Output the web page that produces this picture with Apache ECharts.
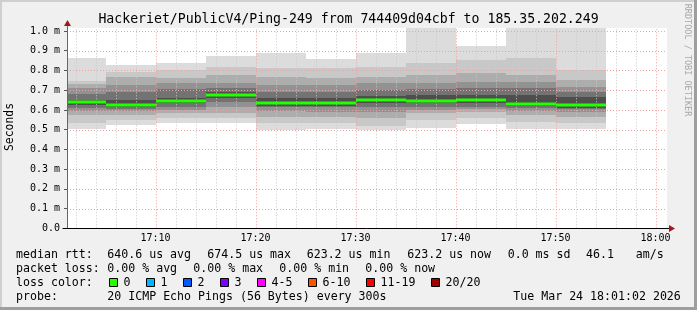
<!DOCTYPE html>
<html><head><meta charset="utf-8">
<script src="https://cdn.jsdelivr.net/npm/echarts@6/dist/echarts.min.js"></script>
<style>html,body{margin:0;padding:0;background:#f0f0f0}#c{width:697px;height:310px}</style>
</head><body><div id="c"></div>
<script>
// ---- data ----
const titleText = 'Hackeriet/PublicV4/Ping-249 from 744409d04cbf to 185.35.202.249';
const X_MIN = 1.15, X_MAX = 61.15;           // minutes after 17:00
const xTickValues = [10, 20, 30, 40, 50, 60];
const xTickLabels = ['17:10', '17:20', '17:30', '17:40', '17:50', '18:00'];
const xMinorGrid = [2, 4, 6, 8, 12, 14, 16, 18, 22, 24, 26, 28, 32, 34, 36, 38, 42, 44, 46, 48, 52, 54, 56, 58];
const yTickValues = [0.1, 0.2, 0.3, 0.4, 0.5, 0.6, 0.7, 0.8, 0.9, 1.0];
const yTickLabels = ['0.0', '0.1 m', '0.2 m', '0.3 m', '0.4 m', '0.5 m', '0.6 m', '0.7 m', '0.8 m', '0.9 m', '1.0 m'];
const intervalEnds = [5, 10, 15, 20, 25, 30, 35, 40, 45, 50, 55];
const medians = [0.639, 0.627, 0.647, 0.6745, 0.634, 0.634, 0.650, 0.647, 0.649, 0.630, 0.6232];
// smoke band edges, outer -> inner (ms)
const bandTops = [
  [0.865, 0.746, 0.730, 0.710, 0.680, 0.650],
  [0.828, 0.794, 0.768, 0.726, 0.692, 0.650],
  [0.839, 0.802, 0.760, 0.735, 0.706, 0.659],
  [0.873, 0.819, 0.776, 0.735, 0.710, 0.692],
  [0.887, 0.811, 0.768, 0.726, 0.692, 0.659],
  [0.860, 0.811, 0.760, 0.726, 0.692, 0.659],
  [0.890, 0.819, 0.768, 0.735, 0.701, 0.671],
  [1.015, 0.836, 0.777, 0.735, 0.705, 0.676],
  [0.924, 0.853, 0.786, 0.743, 0.710, 0.676],
  [1.015, 0.862, 0.777, 0.743, 0.710, 0.676],
  [1.015, 0.802, 0.752, 0.718, 0.692, 0.667]
];
const bandBottoms = [
  [0.503, 0.532, 0.574, 0.595, 0.608, 0.627],
  [0.524, 0.549, 0.574, 0.596, 0.606, 0.615],
  [0.532, 0.558, 0.583, 0.600, 0.613, 0.634],
  [0.535, 0.558, 0.583, 0.616, 0.642, 0.659],
  [0.498, 0.532, 0.566, 0.596, 0.613, 0.622],
  [0.502, 0.532, 0.566, 0.591, 0.613, 0.622],
  [0.498, 0.519, 0.558, 0.591, 0.613, 0.634],
  [0.507, 0.549, 0.583, 0.600, 0.613, 0.634],
  [0.527, 0.558, 0.591, 0.605, 0.615, 0.634],
  [0.502, 0.540, 0.574, 0.596, 0.608, 0.618],
  [0.502, 0.532, 0.566, 0.591, 0.603, 0.612]
];
const bandColors = ['#dcdcdc', '#c8c8c8', '#adadad', '#929292', '#737373', '#4e4e4e'];
const legendLine1 = [['median rtt:', 16], ['640.6 us avg', 107.3], ['674.5 us max', 207.3], ['623.2 us min', 306.7], ['623.2 us now', 407.3], ['0.0 ms sd', 507.7], ['46.1', 586], ['am/s', 635.7]];
const legendLine2 = [['packet loss:', 16], ['0.00 % avg', 107.3], ['0.00 % max', 193.3], ['0.00 % min', 279.3], ['0.00 % now', 365.3]];
const lossLabels = ['0', '1', '2', '3', '4-5', '6-10', '11-19', '20/20'];
const lossColors = ['#26ff00', '#00b8ff', '#0059ff', '#7e00ff', '#ff00ff', '#ff5500', '#ff0000', '#a10000'];
const probeText = '20 ICMP Echo Pings (56 Bytes) every 300s';
const dateText = 'Tue Mar 24 18:01:02 2026';

// ---- chart ----
const MONO = 'DejaVu Sans Mono';
const chart = echarts.init(document.getElementById('c'), null, {renderer: 'canvas'});

function renderSmoke(params, api) {
  const i = params.dataIndex;
  const start = Math.max(api.value(0), X_MIN);
  const end = api.value(1);
  const children = [];
  for (let k = 0; k < bandColors.length; k++) {
    const a = api.coord([start, bandTops[i][k]]);
    const b = api.coord([end, bandBottoms[i][k]]);
    const x0 = Math.round(a[0]), x1 = Math.round(b[0]);
    const y0 = Math.round(a[1]), y1 = Math.round(b[1]);
    children.push({type: 'rect', shape: {x: x0, y: y0, width: x1 - x0, height: y1 - y0}, style: {fill: bandColors[k]}});
  }
  return {type: 'group', children};
}
function renderMedian(params, api) {
  const start = Math.max(api.value(0), X_MIN);
  const a = api.coord([start, api.value(2)]);
  const b = api.coord([api.value(1), api.value(2)]);
  const x0 = Math.round(a[0]), x1 = Math.round(b[0]);
  return {type: 'rect', shape: {x: x0, y: Math.round(a[1]) - 1.5, width: x1 - x0, height: 3}, style: {fill: '#22ff00'}};
}
function vLine(color) {
  return function (params, api) {
    const a = api.coord([api.value(0), 0]);
    const b = api.coord([api.value(0), 1.015]);
    const x = Math.round(a[0]) + 0.5;
    return {type: 'line', shape: {x1: x, y1: a[1], x2: x, y2: b[1]}, style: {stroke: color, lineWidth: 1, lineDash: [1, 2]}};
  };
}
function hLine(params, api) {
  const a = api.coord([X_MIN, api.value(1)]);
  const b = api.coord([X_MAX, api.value(1)]);
  const y = Math.round(a[1]) + 0.5;
  return {type: 'line', shape: {x1: a[0], y1: y, x2: b[0], y2: y}, style: {stroke: '#f0a0a0', lineWidth: 1, lineDash: [1, 2]}};
}

const intervalData = intervalEnds.map((e, i) => [e - 5, e, medians[i]]);

chart.setOption({
  animation: false,
  backgroundColor: '#f0f0f0',
  grid: {left: 67, top: 31, width: 600, height: 197.3, containLabel: false},
  xAxis: {
    type: 'value', min: X_MIN, max: X_MAX,
    axisLine: {show: false}, axisTick: {show: false}, splitLine: {show: false},
    axisLabel: {
      customValues: xTickValues, margin: 5,
      fontFamily: MONO, fontSize: 10, color: '#000',
      formatter: v => xTickLabels[xTickValues.indexOf(Math.round(v))]
    }
  },
  yAxis: {
    type: 'value', min: 0, max: 1.0, interval: 0.1,
    axisLine: {show: false},
    axisTick: {show: true, length: 3, lineStyle: {color: '#555'}},
    splitLine: {show: false},
    axisLabel: {
      margin: 7, fontFamily: MONO, fontSize: 10, color: '#000',
      formatter: v => yTickLabels[Math.round(v * 10)]
    }
  },
  series: [
    {type: 'custom', z: 1, clip: false, renderItem: renderSmoke, data: intervalData, silent: true},
    {type: 'custom', z: 2, clip: false, renderItem: vLine('#c8c8c8'), data: xMinorGrid.map(v => [v, 0]), silent: true},
    {type: 'custom', z: 3, clip: false, renderItem: vLine('#f0a0a0'), data: xTickValues.map(v => [v, 0]), silent: true},
    {type: 'custom', z: 3, clip: false, renderItem: hLine, data: yTickValues.map(v => [X_MIN, v]), silent: true},
    {type: 'custom', z: 4, clip: false, renderItem: renderMedian, data: intervalData, silent: true}
  ]
});

// ---- decorations (frame, axes, texts) ----
const p0 = chart.convertToPixel({gridIndex: 0}, [X_MIN, 0]);
const pR = chart.convertToPixel({gridIndex: 0}, [X_MAX, 0]);
const pT = chart.convertToPixel({gridIndex: 0}, [X_MIN, 1.015]);
const ax = Math.round(p0[0]) + 0.5, ay = Math.round(p0[1]) + 0.5;
const g = [];
// plot background
g.push({type: 'rect', z: -10, shape: {x: p0[0], y: pT[1], width: pR[0] - p0[0], height: p0[1] - pT[1]}, style: {fill: '#ffffff'}});
// frame
g.push({type: 'rect', z: 100, shape: {x: 0, y: 0, width: 697, height: 2}, style: {fill: '#cfcfcf'}});
g.push({type: 'rect', z: 100, shape: {x: 0, y: 0, width: 2, height: 310}, style: {fill: '#cfcfcf'}});
g.push({type: 'rect', z: 100, shape: {x: 694, y: 0, width: 3, height: 310}, style: {fill: '#9e9e9e'}});
g.push({type: 'rect', z: 100, shape: {x: 0, y: 307, width: 697, height: 3}, style: {fill: '#9e9e9e'}});
// axes
g.push({type: 'line', z: 50, shape: {x1: ax, y1: ay, x2: ax, y2: pT[1] - 3}, style: {stroke: '#666', lineWidth: 1}});
g.push({type: 'line', z: 50, shape: {x1: ax - 5, y1: ay, x2: pR[0] + 3, y2: ay}, style: {stroke: '#000', lineWidth: 1}});
g.push({type: 'polygon', z: 51, shape: {points: [[ax - 3.5, pT[1] - 2], [ax + 3.5, pT[1] - 2], [ax, pT[1] - 8]]}, style: {fill: '#a01818'}});
g.push({type: 'polygon', z: 51, shape: {points: [[pR[0] + 2, ay - 3.5], [pR[0] + 2, ay + 3.5], [pR[0] + 8, ay]]}, style: {fill: '#a01818'}});
// title and side texts
g.push({type: 'text', z: 60, x: 348.5, y: 19.5, style: {text: titleText, font: '13.2px "DejaVu Sans Mono"', fill: '#000', align: 'center', verticalAlign: 'middle'}});
g.push({type: 'text', z: 60, x: 10, y: 127, rotation: Math.PI / 2, style: {text: 'Seconds', font: '11.4px "DejaVu Sans Mono"', fill: '#000', align: 'center', verticalAlign: 'middle'}});
g.push({type: 'text', z: 60, x: 687, y: 60, rotation: -Math.PI / 2, style: {text: 'RRDTOOL / TOBI OETIKER', font: '8.5px "DejaVu Sans Mono"', fill: '#a8a8a8', align: 'center', verticalAlign: 'middle'}});
// legend
const LF = '11.6px "DejaVu Sans Mono"';
const CW = 7.0;
const rows = [254.5, 268.5, 282.5, 296.5];
legendLine1.forEach(([t, x]) => g.push({type: 'text', z: 60, x, y: rows[0], style: {text: t, font: LF, fill: '#000', verticalAlign: 'middle'}}));
legendLine2.forEach(([t, x]) => g.push({type: 'text', z: 60, x, y: rows[1], style: {text: t, font: LF, fill: '#000', verticalAlign: 'middle'}}));
g.push({type: 'text', z: 60, x: 16, y: rows[2], style: {text: 'loss color:', font: LF, fill: '#000', verticalAlign: 'middle'}});
let bx = 108.5;
lossLabels.forEach((t, i) => {
  g.push({type: 'rect', z: 60, shape: {x: Math.round(bx) + 0.5, y: 278.5, width: 8, height: 8}, style: {fill: lossColors[i], stroke: '#000', lineWidth: 1}});
  g.push({type: 'text', z: 60, x: bx + 15, y: rows[2], style: {text: t, font: LF, fill: '#000', verticalAlign: 'middle'}});
  bx += 30 + CW * t.length;
});
g.push({type: 'text', z: 60, x: 16, y: rows[3], style: {text: 'probe:', font: LF, fill: '#000', verticalAlign: 'middle'}});
g.push({type: 'text', z: 60, x: 107.3, y: rows[3], style: {text: probeText, font: LF, fill: '#000', verticalAlign: 'middle'}});
g.push({type: 'text', z: 60, x: 513.3, y: rows[3], style: {text: dateText, font: LF, fill: '#000', verticalAlign: 'middle'}});

chart.setOption({graphic: g});
</script>
</body></html>
